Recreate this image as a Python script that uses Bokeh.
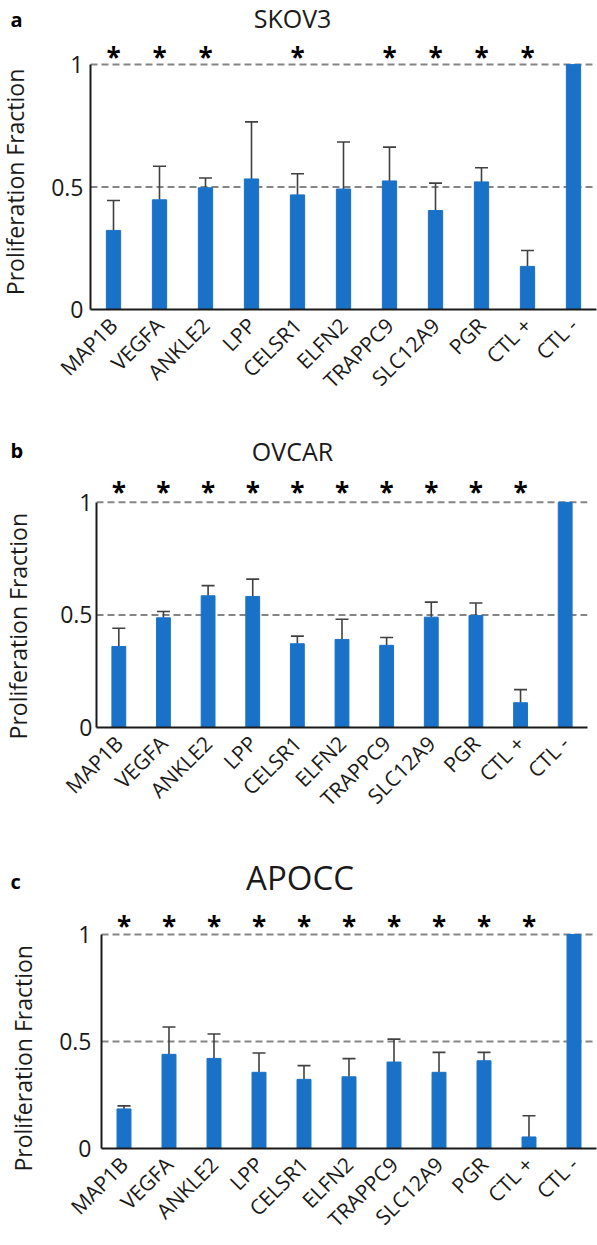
import math
from bokeh.plotting import figure
from bokeh.models import (Range1d, FixedTicker, Span, Whisker, TeeHead, Label,
                          ColumnDataSource)
from bokeh.core.properties import value
from bokeh.embed import file_html
from bokeh.resources import INLINE

# ---------------- data ----------------
categories = ["MAP1B", "VEGFA", "ANKLE2", "LPP", "CELSR1", "ELFN2",
              "TRAPPC9", "SLC12A9", "PGR", "CTL +", "CTL -"]

skov3_mean = [0.323, 0.448, 0.497, 0.533, 0.468, 0.492, 0.525, 0.404, 0.521, 0.176, 1.0]
skov3_err = [0.122, 0.137, 0.040, 0.233, 0.086, 0.192, 0.138, 0.112, 0.058, 0.065, 0.0]
skov3_sig = [1, 1, 1, 0, 1, 0, 1, 1, 1, 1, 0]

ovcar_mean = [0.360, 0.487, 0.585, 0.582, 0.372, 0.391, 0.365, 0.490, 0.497, 0.110, 1.0]
ovcar_err = [0.081, 0.028, 0.045, 0.077, 0.034, 0.090, 0.035, 0.067, 0.056, 0.058, 0.0]
ovcar_sig = [1, 1, 1, 1, 1, 1, 1, 1, 1, 1, 0]

apocc_mean = [0.185, 0.440, 0.421, 0.356, 0.323, 0.335, 0.404, 0.356, 0.410, 0.054, 1.0]
apocc_err = [0.014, 0.128, 0.114, 0.090, 0.064, 0.085, 0.107, 0.093, 0.039, 0.099, 0.0]
apocc_sig = [1, 1, 1, 1, 1, 1, 1, 1, 1, 1, 0]

ref_lines = [0.5, 1.0]
y_ticks = [0, 0.5, 1]
y_tick_labels = ["0", "0.5", "1"]
y_title = "Proliferation Fraction"

FONT = "Open Sans"
BAR = "#1a72c8"
ERR = "#404040"
TXT = "#1a1a1a"


def make_panel(title, letter, mean, err, sig, L):
    """L: layout dict in page pixels."""
    n = len(categories)
    top, height = L["top"], L["height"]
    fl, fr, zero, one = L["left"], L["right"], L["zero"], L["one"]
    scale = zero - one                      # px per unit
    unit = (fr - fl) / n                    # px per category
    frame_h = zero - top
    bottom = height - frame_h

    def dx(px):
        return -0.5 + (px - fl) / unit

    def dy(py):
        return (zero - py) / scale

    p = figure(width=597, height=height, x_range=Range1d(-0.5, n - 0.5),
               y_range=Range1d(0, frame_h / scale), output_backend="svg",
               toolbar_location=None, min_border_left=fl,
               min_border_right=597 - fr, min_border_top=0,
               min_border_bottom=bottom)
    p.outline_line_color = None
    p.grid.visible = False
    p.background_fill_color = "white"
    p.border_fill_color = "white"

    for v in ref_lines:
        p.add_layout(Span(location=v, dimension="width", line_color="#858585",
                          line_dash="7 4", line_width=2, level="underlay"))

    xs = list(range(n))
    src = ColumnDataSource(dict(x=xs, top=mean))
    p.vbar(x="x", top="top", width=0.31, source=src, color=BAR)

    wx = [x for x, e in zip(xs, err) if e > 0]
    wlo = [m for m, e in zip(mean, err) if e > 0]
    wup = [m + e for m, e in zip(mean, err) if e > 0]
    wsrc = ColumnDataSource(dict(x=wx, lower=wlo, upper=wup))
    p.add_layout(Whisker(source=wsrc, base="x", lower="lower", upper="upper",
                         line_color=ERR, line_width=1.6, lower_head=None,
                         upper_head=TeeHead(size=13, line_color=ERR, line_width=1.6)))

    sx = [x for x, s in zip(xs, sig) if s]
    ssrc = ColumnDataSource(dict(x=sx, y=[dy(L["star"] + 5)] * len(sx),
                                 t=["*"] * len(sx)))
    p.text(x="x", y="y", text="t", source=ssrc, text_font=value(FONT),
           text_font_style="bold", text_font_size="26px", text_align="center",
           text_baseline="middle", text_color="black")

    p.add_layout(Label(x=dx(L["title_x"]), y=dy(L["title_y"]), text=title,
                       text_font=FONT, text_font_size=L["title_size"],
                       text_align="center", text_baseline="top",
                       text_color=TXT))
    p.add_layout(Label(x=dx(L["letter_x"]), y=dy(L["letter_y"]), text=letter,
                       text_font=FONT, text_font_size="20px",
                       text_font_style="bold", text_align="left",
                       text_baseline="alphabetic", text_color="black"),
                 L["letter_side"])
    p.add_layout(Label(x=dx(L["ylab_x"]), y=dy(L["ylab_y"]), text=y_title,
                       angle=math.pi / 2, text_font=FONT,
                       text_font_size="23px", text_align="center",
                       text_baseline="middle", text_color=TXT), "left")

    ya = p.yaxis[0]
    ya.bounds = (0, 1)
    ya.ticker = FixedTicker(ticks=y_ticks)
    ya.major_label_overrides = {t: l for t, l in zip(y_ticks, y_tick_labels)}
    ya.major_tick_out = 0
    ya.major_tick_in = 0
    ya.minor_tick_out = 0
    ya.minor_tick_in = 0
    ya.axis_line_width = 2
    ya.axis_line_color = TXT
    ya.major_label_text_font = FONT
    ya.major_label_text_font_size = "23px"
    ya.major_label_text_color = TXT
    ya.major_label_standoff = L["tick_standoff"]

    xa = p.xaxis[0]
    xa.ticker = FixedTicker(ticks=xs)
    xa.major_label_overrides = {i: c for i, c in enumerate(categories)}
    xa.major_label_orientation = math.pi / 4
    xa.major_tick_out = 0
    xa.major_tick_in = 0
    xa.minor_tick_out = 0
    xa.minor_tick_in = 0
    xa.axis_line_width = 2
    xa.axis_line_color = TXT
    xa.major_label_text_font = FONT
    xa.major_label_text_font_size = "21px"
    xa.major_label_text_line_height = 1.0
    xa.major_label_text_color = TXT
    xa.major_label_standoff = 12
    return p


# page-pixel layout (positions only)
LA = dict(top=0, height=433, left=90, right=596, zero=310, one=64.3,
          star=51.7, title_x=292, title_y=1, title_size="25px",
          letter_x=10, letter_y=19, letter_side="below",
          ylab_x=14, ylab_y=182, tick_standoff=7)
LB = dict(top=433, height=391, left=96, right=587, zero=729, one=502.3,
          star=486.7, title_x=292, title_y=433, title_size="25px",
          letter_x=10, letter_y=450, letter_side="left",
          ylab_x=17, ylab_y=627, tick_standoff=4)
LC = dict(top=824, height=421, left=101, right=596, zero=1151, one=935,
          star=921.7, title_x=299.5, title_y=855, title_size="33px",
          letter_x=10, letter_y=882, letter_side="left",
          ylab_x=22, ylab_y=1060, tick_standoff=10)

pa = make_panel("SKOV3", "a", skov3_mean, skov3_err, skov3_sig, LA)
pb = make_panel("OVCAR", "b", ovcar_mean, ovcar_err, ovcar_sig, LB)
pc = make_panel("APOCC", "c", apocc_mean, apocc_err, apocc_sig, LC)

open("out.html", "w").write(file_html([pa, pb, pc], INLINE))
